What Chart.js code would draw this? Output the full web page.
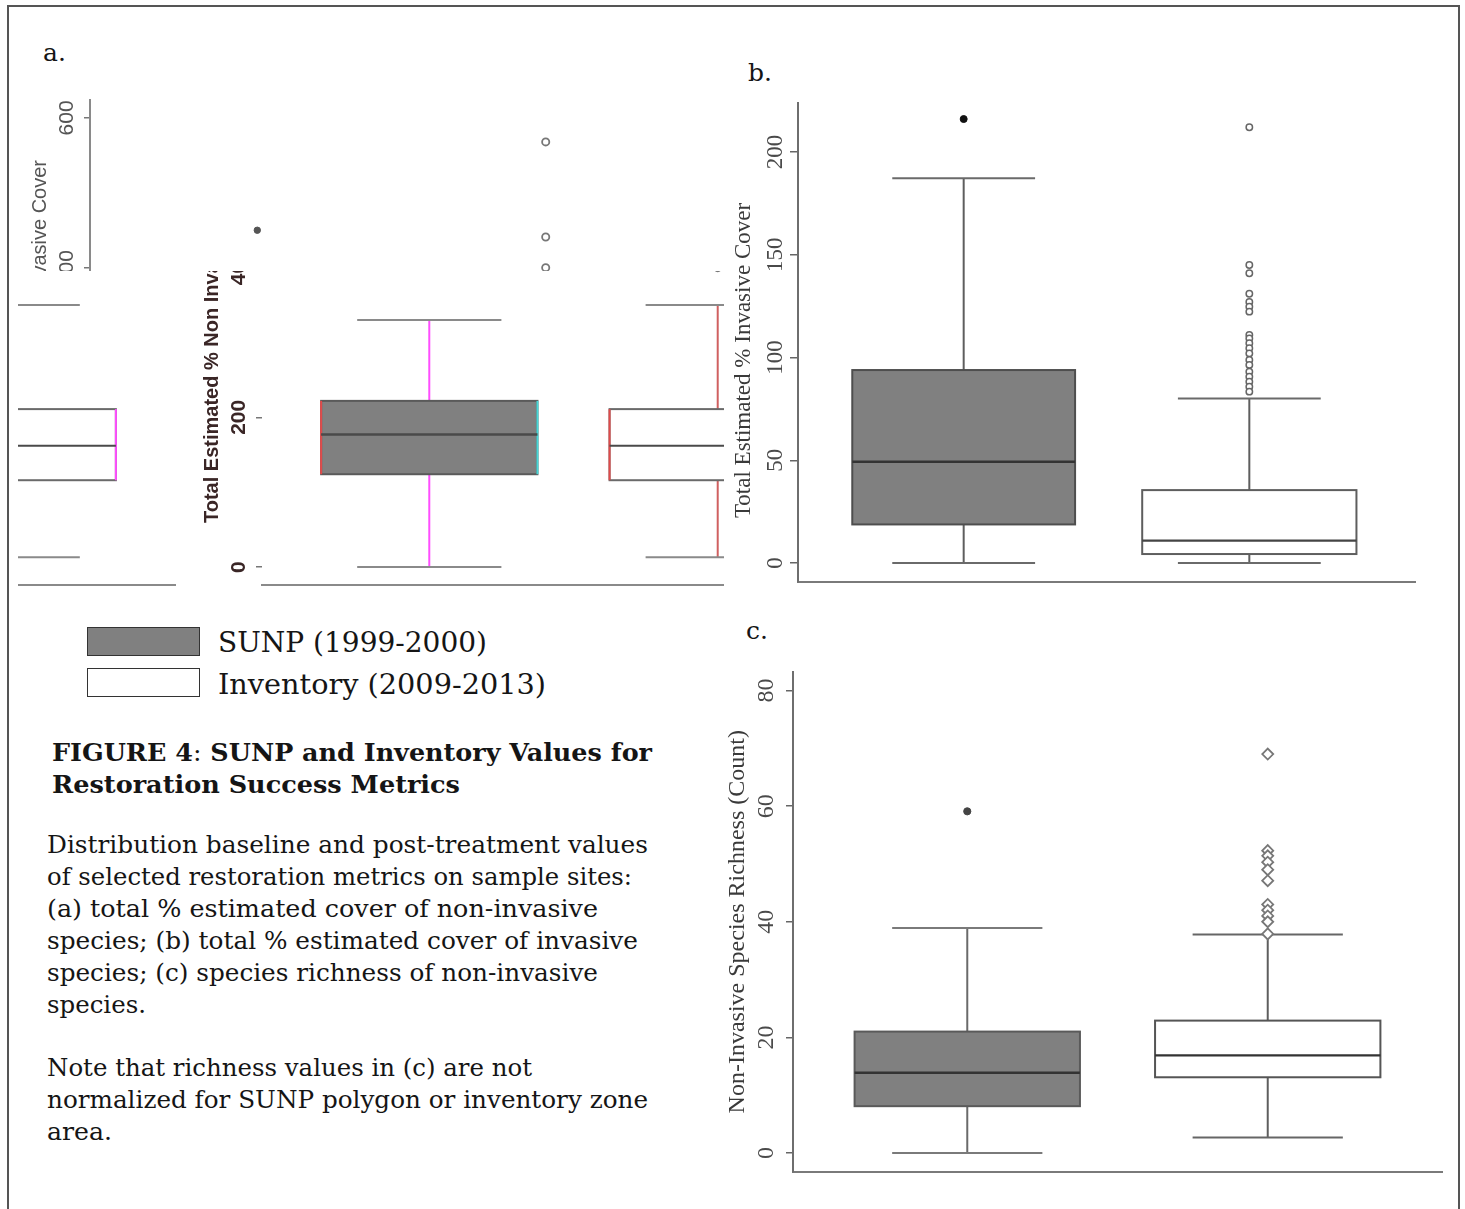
<!DOCTYPE html>
<html><head><meta charset="utf-8">
<script src="https://cdn.jsdelivr.net/npm/chart.js@4.4.1/dist/chart.umd.min.js"></script>
<style>
html,body{margin:0;padding:0;background:#fff;}
#root{position:relative;width:1465px;height:1209px;overflow:hidden;background:#fff;}
.frame{position:absolute;left:7px;top:5px;width:1449px;height:1300px;border:2px solid #555;border-bottom:none;}
.txt{position:absolute;white-space:nowrap;line-height:1;transform-origin:0 0;color:#151515;font-family:"DejaVu Serif",serif;}
.view{position:absolute;overflow:hidden;}
canvas{position:absolute;display:block;}
.swatch{position:absolute;box-sizing:border-box;border:1.5px solid #333;}
</style></head>
<body><div id="root"><div class="frame"></div></div>
<script>
// ---------------- DATA ----------------
const groups = ['SUNP (1999-2000)', 'Inventory (2009-2013)'];
const positions = [1, 2];

// stats: [lower whisker, Q1, median, Q3, upper whisker]
// (a) Total estimated % non-invasive cover
const aSunp = [0, 124, 177, 222, 330];
const aInventory = [13, 116, 162, 211, 350];
const aSunpOutliers = [450];
const aInventoryOutliers = [568, 441, 400];
const aTicks = [0, 200, 400, 600];

// (b) Total estimated % invasive cover
const bSunp = [0, 18.8, 49.3, 93.9, 187.2];
const bInventory = [0, 4.4, 10.9, 35.5, 80.1];
const bSunpOutliers = [216];
const bInventoryOutliers = [212, 145, 141, 131, 127, 124.7, 122.3, 111, 109.3, 106.9, 104.5, 102, 98.8, 96.4, 93.1, 90.7, 88.2, 85.8, 83.4];
const bTicks = [0, 50, 100, 150, 200];

// (c) Non-invasive species richness (count)
const cSunp = [0, 8.1, 13.9, 21, 38.9];
const cInventory = [2.7, 13.1, 16.9, 22.9, 37.8];
const cSunpOutliers = [59.1];
const cInventoryOutliers = [69, 52.3, 51.4, 50.3, 49, 47.1, 43, 42, 41, 40, 37.9];
const cTicks = [0, 20, 40, 60, 80];

// ---------------- PLUGINS ----------------
function seg(ctx, x1, y1, x2, y2) { ctx.beginPath(); ctx.moveTo(x1, y1); ctx.lineTo(x2, y2); ctx.stroke(); }

const boxPlotPlugin = {
  id: 'boxPlot',
  beforeDatasetsDraw(chart, args, opts) {
    const ctx = chart.ctx, x = chart.scales.x, y = chart.scales.y;
    (opts.boxes || []).forEach(b => {
      const [lo, q1, med, q3, hi] = b.stats;
      const cx = x.getPixelForValue(b.pos);
      const bl = x.getPixelForValue(b.pos - b.width / 2), br = x.getPixelForValue(b.pos + b.width / 2);
      const cl = x.getPixelForValue(b.pos - b.cap / 2), cr = x.getPixelForValue(b.pos + b.cap / 2);
      const yLo = y.getPixelForValue(lo), yQ1 = y.getPixelForValue(q1), yMed = y.getPixelForValue(med),
            yQ3 = y.getPixelForValue(q3), yHi = y.getPixelForValue(hi);
      ctx.save();
      ctx.lineWidth = b.lw;
      ctx.strokeStyle = b.whisker;
      seg(ctx, cx, yQ3, cx, yHi); seg(ctx, cx, yQ1, cx, yLo);
      ctx.strokeStyle = b.capColor;
      seg(ctx, cl, yHi, cr, yHi); seg(ctx, cl, yLo, cr, yLo);
      ctx.fillStyle = b.fill;
      ctx.fillRect(bl, yQ3, br - bl, yQ1 - yQ3);
      ctx.strokeStyle = b.stroke;
      ctx.strokeRect(bl, yQ3, br - bl, yQ1 - yQ3);
      if (b.leftEdge) { ctx.strokeStyle = b.leftEdge; seg(ctx, bl, yQ3, bl, yQ1); }
      if (b.rightEdge) { ctx.strokeStyle = b.rightEdge; seg(ctx, br, yQ3, br, yQ1); }
      ctx.strokeStyle = b.median; ctx.lineWidth = b.medLw;
      seg(ctx, bl, yMed, br, yMed);
      ctx.restore();
    });
  }
};

const axisTextPlugin = {
  id: 'axisText',
  afterDraw(chart, args, o) {
    const ctx = chart.ctx, area = chart.chartArea, y = chart.scales.y;
    ctx.save();
    ctx.fillStyle = o.tickColor;
    ctx.font = o.tickFont;
    ctx.textAlign = 'center';
    ctx.textBaseline = 'middle';
    (o.ticks || []).forEach(v => {
      const py = y.getPixelForValue(v);
      ctx.save();
      ctx.translate(area.left + o.tickDx, py);
      ctx.rotate(-Math.PI / 2);
      ctx.fillText(String(v), 0, 0);
      ctx.restore();
    });
    if (o.title) {
      ctx.font = o.titleFont;
      ctx.fillStyle = o.titleColor;
      let ty = (area.top + area.bottom) / 2 + (o.titleShift || 0);
      if (o.anchor) { ty = o.anchor.y; ctx.textAlign = o.anchor.mode === 'start' ? 'left' : 'right'; }
      ctx.translate(area.left + o.titleDx, ty);
      ctx.rotate(-Math.PI / 2);
      ctx.fillText(o.title, 0, 0);
    }
    ctx.restore();
  }
};

function boxChart(canvas, p) {
  return new Chart(canvas, {
    type: 'scatter',
    data: {
      datasets: p.outliers.map(o => ({
        label: o.label,
        data: o.values.map(v => ({ x: o.pos, y: v })),
        pointStyle: o.style,
        pointRadius: o.r,
        pointBackgroundColor: o.fill,
        pointBorderColor: o.stroke,
        pointBorderWidth: o.bw,
        showLine: false,
        clip: false
      }))
    },
    options: {
      responsive: false,
      animation: false,
      devicePixelRatio: 1,
      events: [],
      layout: { padding: p.pad },
      plugins: {
        legend: { display: false },
        tooltip: { enabled: false },
        boxPlot: { boxes: p.boxes },
        axisText: p.text
      },
      scales: {
        x: {
          type: 'linear', min: 0.42, max: 2.58,
          ticks: { display: false },
          grid: { display: false, drawTicks: false },
          border: { display: true, color: p.xAxisColor, width: 2 },
          afterFit: s => { s.height = 0; }
        },
        y: {
          type: 'linear', min: p.ymin, max: p.ymax,
          afterBuildTicks: s => { s.ticks = p.ticks.map(v => ({ value: v })); },
          ticks: { display: false },
          grid: { display: true, drawOnChartArea: false, drawTicks: true, tickLength: p.tickLen, color: p.tickColor, lineWidth: 1.5 },
          border: { display: p.yBorder, color: p.yAxisColor, width: 2 },
          afterFit: s => { s.width = p.yWidth; }
        }
      }
    },
    plugins: [boxPlotPlugin, axisTextPlugin]
  });
}

const root = document.getElementById('root');
function makeCanvas(parent, left, top, w, h) {
  const c = document.createElement('canvas');
  c.width = w; c.height = h;
  c.style.left = left + 'px'; c.style.top = top + 'px';
  c.style.width = w + 'px'; c.style.height = h + 'px';
  parent.appendChild(c);
  return c;
}
function makeView(left, top, w, h) {
  const d = document.createElement('div');
  d.className = 'view';
  Object.assign(d.style, { left: left + 'px', top: top + 'px', width: w + 'px', height: h + 'px' });
  root.appendChild(d);
  return d;
}

const GREY = '#808080';

// ---------------- PANEL (a): one chart seen through three offset windows ----------------
function panelA(canvas, view) {
  const lower = view !== 'upper';
  return boxChart(canvas, {
    pad: { left: 0, top: 10, right: 10, bottom: 15 },
    yWidth: 87, ymin: -24, ymax: 624, ticks: aTicks, tickLen: 6, tickColor: '#777',
    yBorder: view === 'upper', yAxisColor: '#8a8a8a', xAxisColor: '#8a8a8a',
    boxes: [
      { pos: positions[0], stats: aSunp, width: 0.75, cap: 0.5, fill: GREY, stroke: '#5a5a5a', lw: 2,
        whisker: '#ff4dff', capColor: '#8a8a8a', median: '#4a4a4a', medLw: 2.5, leftEdge: '#e04a4a', rightEdge: '#48d8d8' },
      { pos: positions[1], stats: aInventory, width: 0.75, cap: 0.5, fill: '#ffffff', stroke: '#6a6a6a', lw: 2,
        whisker: '#d06060', capColor: '#8a8a8a', median: '#4a4a4a', medLw: 2, leftEdge: '#e04a4a', rightEdge: '#ff4dff' }
    ],
    outliers: [
      { label: groups[0], pos: positions[0], values: aSunpOutliers, style: 'circle', r: 3.2, fill: '#555', stroke: '#555', bw: 1 },
      { label: groups[1], pos: positions[1], values: aInventoryOutliers, style: 'circle', r: 3.6, fill: '#fff', stroke: '#777', bw: 1.8 }
    ],
    text: {
      ticks: aTicks, tickDx: -23,
      tickFont: (lower ? 'bold ' : '') + '21px "Liberation Sans"', tickColor: lower ? '#3a2626' : '#555',
      title: 'Total Estimated % Non Invasive Cover', titleDx: -50,
      titleFont: (lower ? 'bold ' : '') + '20px "Liberation Sans"', titleColor: lower ? '#3a2626' : '#555',
      anchor: lower ? { mode: 'start', y: 433 } : { mode: 'end', y: 70 }
    }
  });
}
// lower window (in place)
panelA(makeCanvas(makeView(175, 271, 549, 329), 0, -181, 720, 510), 'lower');
// upper strip, displaced to the left
panelA(makeCanvas(makeView(18, 90, 706, 181), -15, 0, 720, 510), 'upper');
// right overflow wrapped to the left edge
panelA(makeCanvas(makeView(18, 271, 160, 329), -553, -181, 720, 510), 'wrap');

// ---------------- PANEL (b) ----------------
boxChart(makeCanvas(root, 730, 90, 700, 510), {
  pad: { left: 0, top: 13, right: 15, bottom: 18 },
  yWidth: 68, ymin: -9.2, ymax: 223.8, ticks: bTicks, tickLen: 8, tickColor: '#666',
  yBorder: true, yAxisColor: '#6e6e6e', xAxisColor: '#7a7a7a',
  boxes: [
    { pos: positions[0], stats: bSunp, width: 0.78, cap: 0.5, fill: GREY, stroke: '#4e4e4e', lw: 2,
      whisker: '#5e5e5e', capColor: '#6a6a6a', median: '#333', medLw: 2.5 },
    { pos: positions[1], stats: bInventory, width: 0.75, cap: 0.5, fill: '#fff', stroke: '#5e5e5e', lw: 2,
      whisker: '#5e5e5e', capColor: '#6a6a6a', median: '#444', medLw: 2.2 }
  ],
  outliers: [
    { label: groups[0], pos: positions[0], values: bSunpOutliers, style: 'circle', r: 3.5, fill: '#111', stroke: '#111', bw: 1 },
    { label: groups[1], pos: positions[1], values: bInventoryOutliers, style: 'circle', r: 3.2, fill: '#fff', stroke: '#666', bw: 1.5 }
  ],
  text: {
    ticks: bTicks, tickDx: -22, tickFont: '23px "Liberation Serif"', tickColor: '#4a4a4a',
    title: 'Total Estimated % Invasive Cover', titleDx: -54, titleFont: '23px "Liberation Serif"', titleColor: '#3a3a3a', titleShift: 18
  }
});

// ---------------- PANEL (c) ----------------
boxChart(makeCanvas(root, 725, 650, 730, 540), {
  pad: { left: 0, top: 22, right: 13, bottom: 18.5 },
  yWidth: 68, ymin: -3.2, ymax: 83.2, ticks: cTicks, tickLen: 7, tickColor: '#666',
  yBorder: true, yAxisColor: '#6e6e6e', xAxisColor: '#7a7a7a',
  boxes: [
    { pos: positions[0], stats: cSunp, width: 0.75, cap: 0.5, fill: GREY, stroke: '#5a5a5a', lw: 2,
      whisker: '#6a6a6a', capColor: '#7a7a7a', median: '#333', medLw: 2.5 },
    { pos: positions[1], stats: cInventory, width: 0.75, cap: 0.5, fill: '#fff', stroke: '#555', lw: 2,
      whisker: '#5e5e5e', capColor: '#666', median: '#333', medLw: 2.2 }
  ],
  outliers: [
    { label: groups[0], pos: positions[0], values: cSunpOutliers, style: 'circle', r: 3.6, fill: '#444', stroke: '#444', bw: 1 },
    { label: groups[1], pos: positions[1], values: cInventoryOutliers, style: 'rectRot', r: 5.5, fill: '#fff', stroke: '#777', bw: 1.8 }
  ],
  text: {
    ticks: cTicks, tickDx: -26, tickFont: '24px "Liberation Serif"', tickColor: '#4a4a4a',
    title: 'Non-Invasive Species Richness (Count)', titleDx: -55, titleFont: '24px "Liberation Serif"', titleColor: '#3a3a3a'
  }
});

// ---------------- LEGEND + CAPTION (real text) ----------------
function sw(left, top, w, h, fill) {
  const d = document.createElement('div');
  d.className = 'swatch';
  Object.assign(d.style, { left: left + 'px', top: top + 'px', width: w + 'px', height: h + 'px', background: fill });
  root.appendChild(d);
}
sw(87, 627, 113, 29, GREY);
sw(87, 668, 113, 29, '#ffffff');

function addText(parts, x, baseline, size, targetW, bold) {
  const el = document.createElement('div');
  el.className = 'txt';
  el.style.fontSize = size + 'px';
  el.style.left = x + 'px';
  el.style.top = (baseline - 0.846 * size) + 'px';
  parts.forEach(p => {
    const s = document.createElement('span');
    s.textContent = p[0];
    if (p[1]) s.style.fontWeight = 'bold';
    el.appendChild(s);
  });
  root.appendChild(el);
  if (targetW) {
    const w = el.getBoundingClientRect().width;
    el.style.transform = 'scaleX(' + (targetW / w) + ')';
  }
  return el;
}

addText([['a.']], 43, 61, 25);
addText([['b.']], 748, 81, 25);
addText([['c.']], 746, 639, 25);

addText([[groups[0]]], 218, 652, 27, 269);
addText([[groups[1]]], 218, 694, 27, 328);

addText([['FIGURE 4', true], [':'], [' SUNP and Inventory Values for', true]], 52, 761, 24, 600);
addText([['Restoration Success Metrics', true]], 52, 793, 24, 408);

const caption = [
  ['Distribution baseline and post-treatment values', 853, 601],
  ['of selected restoration metrics on sample sites:', 885, 585],
  ['(a) total % estimated cover of non-invasive', 917, 551],
  ['species; (b) total % estimated cover of invasive', 949, 591],
  ['species; (c) species richness of non-invasive', 981, 551],
  ['species.', 1013, 99],
  ['Note that richness values in (c) are not', 1076, 485],
  ['normalized for SUNP polygon or inventory zone', 1108, 601],
  ['area.', 1140, 65]
];
caption.forEach(c => addText([[c[0]]], 47, c[1], 24, c[2]));
</script>
</body></html>
